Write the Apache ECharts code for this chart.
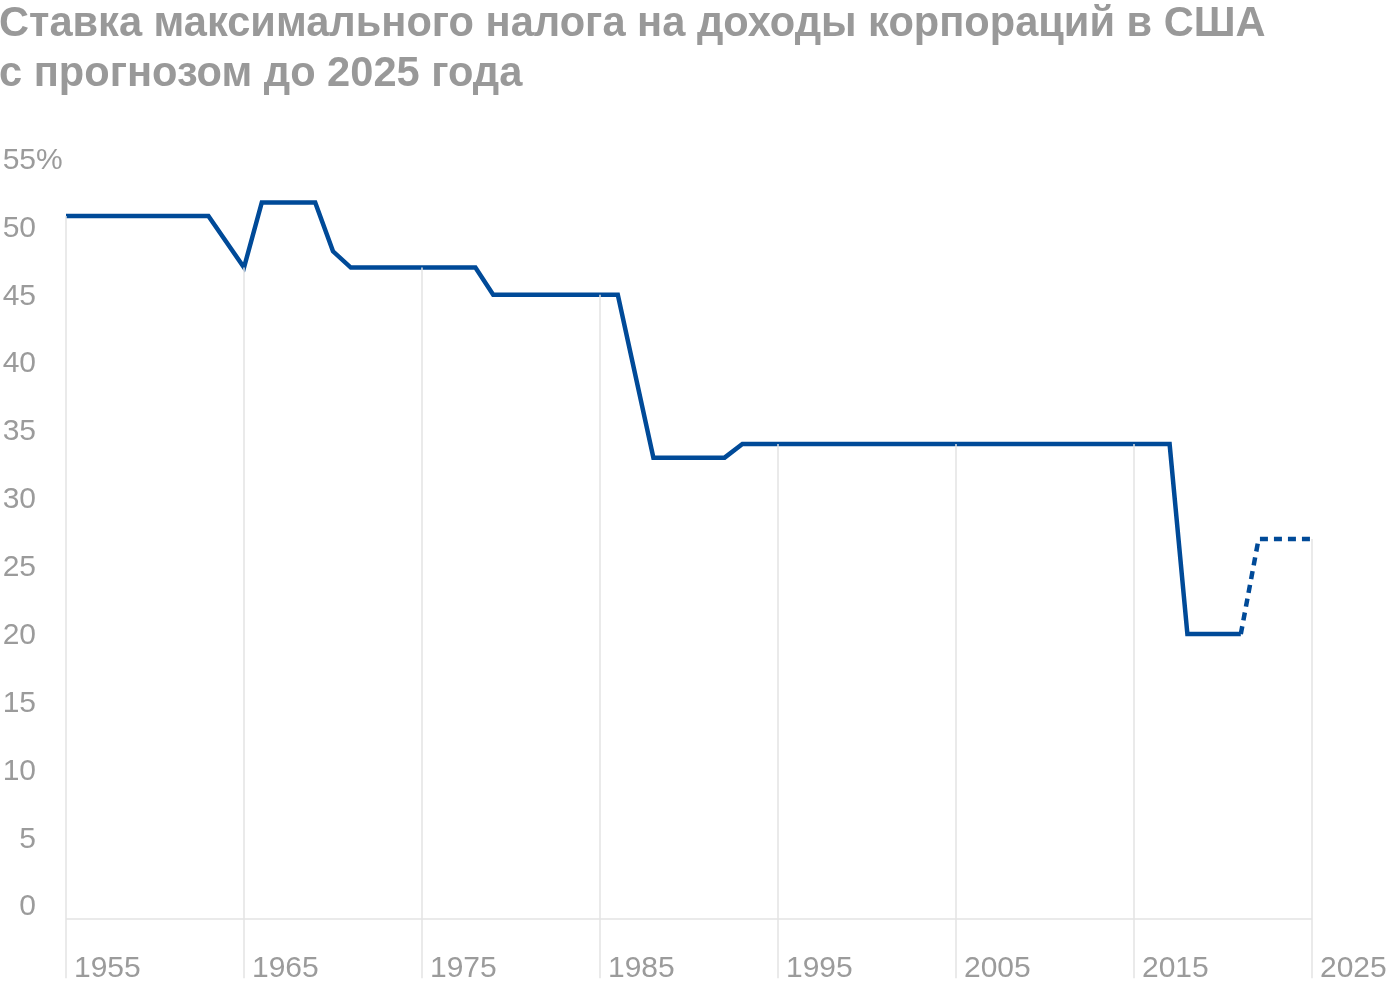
<!DOCTYPE html>
<html>
<head>
<meta charset="utf-8">
<script src="https://cdn.jsdelivr.net/npm/echarts@6/dist/echarts.min.js"></script>
<style>
html,body{margin:0;padding:0;background:#fff;}
#chart{width:1400px;height:988px;}
</style>
</head>
<body>
<div id="chart"></div>
<script>
// ---- data ----
const titleLines = ['Ставка максимального налога на доходы корпораций в США', 'с прогнозом до 2025 года'];
const years = [1955,1956,1957,1958,1959,1960,1961,1962,1963,1964,
               1965,1966,1967,1968,1969,1970,1971,1972,1973,1974,
               1975,1976,1977,1978,1979,1980,1981,1982,1983,1984,
               1985,1986,1987,1988,1989,1990,1991,1992,1993,1994,
               1995,1996,1997,1998,1999,2000,2001,2002,2003,2004,
               2005,2006,2007,2008,2009,2010,2011,2012,2013,2014,
               2015,2016,2017,2018,2019,2020,2021,2022,2023,2024,2025];
// actual rates (%), 1955–2021
const actualRates = [51.8,51.8,51.8,51.8,51.8,51.8,51.8,51.8,51.8,49.9,
                     48,52.8,52.8,52.8,52.8,49.2,48,48,48,48,
                     48,48,48,48,46,46,46,46,46,46,
                     46,46,40,34,34,34,34,34,35,35,
                     35,35,35,35,35,35,35,35,35,35,
                     35,35,35,35,35,35,35,35,35,35,
                     35,35,35,21,21,21,21];
// forecast rates (%), 2021–2025
const forecastYears = [2021,2022,2023,2024,2025];
const forecastRates = [21,28,28,28,28];
const labelYears = [1955,1965,1975,1985,1995,2005,2015,2025];
const yTicks = [0,5,10,15,20,25,30,35,40,45,50,55];
const yUnitSuffix = '%';

// ---- build ----
const actualData = years.map((y, i) => i < actualRates.length ? actualRates[i] : null);
const forecastData = years.map(y => {
  const k = forecastYears.indexOf(y);
  return k >= 0 ? forecastRates[k] : null;
});
function valueAt(y) {
  const k = forecastYears.indexOf(y);
  if (k > 0) return forecastRates[k];
  return actualRates[years.indexOf(y)];
}
const dropBottom = -4.35;
const dropLines = labelYears.map(y => [
  { coord: [String(y), valueAt(y)] },
  { coord: [String(y), dropBottom] }
]);
dropLines.push([
  { coord: [String(years[0]), 0] },
  { coord: [String(years[years.length - 1]), 0] }
]);

const gray = '#9b9b9b';
const blue = '#004a98';
const gridGray = '#e3e3e3';
const font = '"Liberation Sans", Arial, sans-serif';

const chart = echarts.init(document.getElementById('chart'), null, { renderer: 'canvas' });
chart.setOption({
  animation: false,
  backgroundColor: '#fff',
  title: {
    text: titleLines.join('\n'),
    left: -1, top: 0,
    padding: 0,
    textStyle: { fontFamily: font, fontWeight: 'bold', fontSize: 41.6, lineHeight: 50, color: '#999999' }
  },
  grid: { left: 66, right: 88, top: 172.6, bottom: 1, containLabel: false, outerBoundsMode: 'none' },
  xAxis: {
    type: 'category',
    data: years.map(String),
    boundaryGap: false,
    axisLine: { show: false, onZero: false },
    axisTick: { show: false },
    splitLine: { show: false },
    axisLabel: {
      interval: function (idx, val) { return labelYears.indexOf(Number(val)) >= 0; },
      color: gray, fontFamily: font, fontSize: 30,
      align: 'left', verticalAlign: 'middle', margin: -18, padding: [0, 0, 0, 8]
    }
  },
  yAxis: {
    type: 'value',
    min: -5, max: 55, interval: 5,
    axisLine: { show: false },
    axisTick: { show: false },
    splitLine: { show: false },
    axisLabel: {
      color: gray, fontFamily: font, fontSize: 30,
      margin: 30, align: 'right',
      verticalAlign: 'bottom', lineHeight: 24,
      formatter: function (v) {
        if (yTicks.indexOf(v) < 0) return '';
        return String(v);
      }
    }
  },
  series: [
    {
      name: 'grid', type: 'line', data: [], z: 1, silent: true,
      markLine: {
        silent: true, symbol: 'none', animation: false,
        label: { show: false },
        lineStyle: { color: gridGray, width: 1.5, type: 'solid' },
        emphasis: { disabled: true },
        data: dropLines
      }
    },
    {
      name: 'Ставка', type: 'line', data: actualData, z: 3,
      showSymbol: false, symbol: 'none',
      lineStyle: { color: blue, width: 4.5, join: 'miter' }
    },
    {
      name: 'Прогноз', type: 'line', data: forecastData, z: 3,
      showSymbol: false, symbol: 'none',
      lineStyle: { color: blue, width: 4.5, type: [8, 6], join: 'miter' }
    }
  ]
});

// "%" suffix after the top y label, positioned from the axis scale
const topTick = yTicks[yTicks.length - 1];
const py = chart.convertToPixel({ yAxisIndex: 0 }, topTick);
chart.setOption({
  graphic: [{
    type: 'text',
    x: 66 - 30, y: py - 12,
    style: {
      text: yUnitSuffix, fill: gray, font: '30px ' + font,
      textAlign: 'left', textVerticalAlign: 'middle'
    },
    silent: true
  }]
});
</script>
</body>
</html>
